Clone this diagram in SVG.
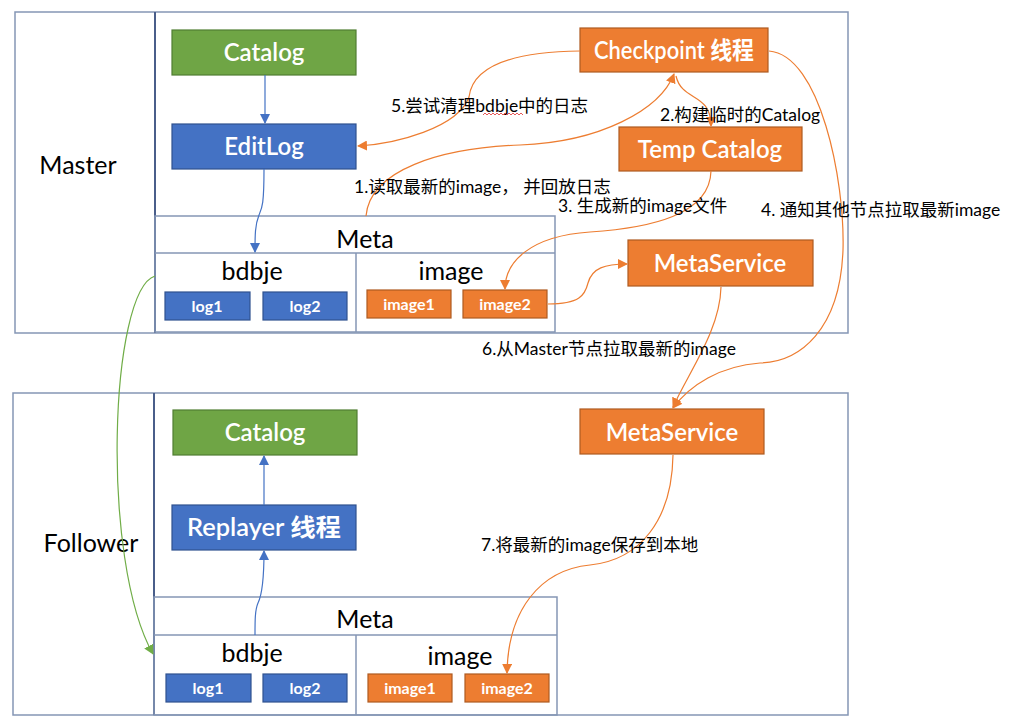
<svg xmlns="http://www.w3.org/2000/svg" width="1014" height="727" viewBox="0 0 1014 727">
<defs>
<style>
.frame{fill:#fff;stroke:#8596B5;stroke-width:1.5}
.div{stroke:#4A5E8A;stroke-width:2}
.sep{stroke:#8596B5;stroke-width:1.5;fill:none}
.blue{fill:#4472C4;stroke:#2F528F;stroke-width:1.2}
.green{fill:#6FA545;stroke:#507E32;stroke-width:1.2}
.orange{fill:#ED7D31;stroke:#AE5A21;stroke-width:1.2}
.nt{font-family:Lato,"Noto Sans","Noto Sans CJK SC",sans-serif;fill:#fff;text-anchor:middle;font-size:24px;font-weight:600}
.st{font-family:Lato,"Noto Sans","Noto Sans CJK SC",sans-serif;fill:#fff;text-anchor:middle;font-size:16px;font-weight:bold}
.bt{font-family:Lato,"Noto Sans","Noto Sans CJK SC",sans-serif;fill:#000;text-anchor:middle;font-size:25px}
.lb{font-family:Lato,"Noto Sans","Noto Sans CJK SC",sans-serif;fill:#000;font-size:17.5px}
.cb{fill:none;stroke:#4472C4;stroke-width:1.2}
.co{fill:none;stroke:#ED7D31;stroke-width:1.2}
.cg{fill:none;stroke:#70AD47;stroke-width:1.2}
</style>
<marker id="ab" viewBox="0 0 10 10" refX="9" refY="5" markerWidth="10" markerHeight="10" markerUnits="userSpaceOnUse" orient="auto"><path d="M0,0 L10,5 L0,10 z" fill="#4472C4"/></marker>
<marker id="ao" viewBox="0 0 10 10" refX="9" refY="5" markerWidth="10" markerHeight="10" markerUnits="userSpaceOnUse" orient="auto"><path d="M0,0 L10,5 L0,10 z" fill="#ED7D31"/></marker>
<marker id="ag" viewBox="0 0 10 10" refX="9" refY="5" markerWidth="10" markerHeight="10" markerUnits="userSpaceOnUse" orient="auto"><path d="M0,0 L10,5 L0,10 z" fill="#70AD47"/></marker>
</defs>
<rect width="1014" height="727" fill="#fff"/>

<g id="master-frame">
<rect class="frame" x="15" y="12" width="833" height="321"/>
<line class="div" x1="155" y1="12" x2="155" y2="333"/>
<text class="bt" x="78" y="174">Master</text>
</g>
<g id="follower-frame">
<rect class="frame" x="13" y="393" width="835" height="322"/>
<line class="div" x1="154" y1="393" x2="154" y2="715"/>
<text class="bt" x="91" y="552">Follower</text>
</g>

<g id="master-meta">
<rect class="sep" x="155" y="216" width="400" height="116"/>
<line class="sep" x1="155" y1="253" x2="555" y2="253"/>
<line class="sep" x1="356" y1="253" x2="356" y2="332"/>
<text class="bt" x="365" y="248">Meta</text>
<text class="bt" x="252" y="280">bdbje</text>
<text class="bt" x="451" y="280">image</text>
</g>
<g id="m-log1"><rect class="blue" x="165" y="292" width="85" height="28"/><text class="st" x="207" y="312">log1</text></g>
<g id="m-log2"><rect class="blue" x="263" y="292" width="84" height="28"/><text class="st" x="305" y="312">log2</text></g>
<g id="m-image1"><rect class="orange" x="367" y="290" width="84" height="28"/><text class="st" x="409" y="310">image1</text></g>
<g id="m-image2"><rect class="orange" x="463" y="290" width="84" height="28"/><text class="st" x="505" y="310">image2</text></g>

<g id="m-catalog"><rect class="green" x="172" y="30" width="184" height="45"/><text class="nt" x="264" y="61">Catalog</text></g>
<g id="m-editlog"><rect class="blue" x="172" y="124" width="184" height="45"/><text class="nt" x="264" y="155">EditLog</text></g>
<g id="checkpoint"><rect class="orange" x="580" y="28" width="188" height="44"/><text class="nt" x="674" y="59" textLength="160" lengthAdjust="spacingAndGlyphs">Checkpoint 线程</text></g>
<g id="temp-catalog"><rect class="orange" x="619" y="127" width="183" height="44"/><text class="nt" x="710" y="158">Temp Catalog</text></g>
<g id="m-metaservice"><rect class="orange" x="628" y="240" width="185" height="46"/><text class="nt" x="720" y="272">MetaService</text></g>

<g id="follower-meta">
<rect class="sep" x="154" y="597" width="403" height="118"/>
<line class="sep" x1="154" y1="635" x2="557" y2="635"/>
<line class="sep" x1="356" y1="635" x2="356" y2="715"/>
<text class="bt" x="365" y="628">Meta</text>
<text class="bt" x="252" y="662">bdbje</text>
<text class="bt" x="460" y="665">image</text>
</g>
<g id="f-log1"><rect class="blue" x="166" y="674" width="85" height="28"/><text class="st" x="208" y="694">log1</text></g>
<g id="f-log2"><rect class="blue" x="263" y="674" width="84" height="28"/><text class="st" x="305" y="694">log2</text></g>
<g id="f-image1"><rect class="orange" x="368" y="674" width="84" height="28"/><text class="st" x="410" y="694">image1</text></g>
<g id="f-image2"><rect class="orange" x="465" y="674" width="84" height="28"/><text class="st" x="507" y="694">image2</text></g>

<g id="f-catalog"><rect class="green" x="173" y="410" width="184" height="45"/><text class="nt" x="265" y="441">Catalog</text></g>
<g id="f-replayer"><rect class="blue" x="172" y="505" width="184" height="45"/><text class="nt" x="264" y="536" textLength="154" lengthAdjust="spacingAndGlyphs">Replayer 线程</text></g>
<g id="f-metaservice"><rect class="orange" x="580" y="409" width="184" height="45"/><text class="nt" x="672" y="441">MetaService</text></g>

<g id="connectors">
<path class="cb" d="M265,75 L265,123" marker-end="url(#ab)"/>
<path class="cb" d="M264,169 C264,205 262,208 259,215 C255,225 255,235 255,252" marker-end="url(#ab)"/>
<path class="cb" d="M255,635 C255,620 255,610 258,603 C262,595 264,580 264,551" marker-end="url(#ab)"/>
<path class="cb" d="M264,505 L264,456" marker-end="url(#ab)"/>
<path class="cg" d="M155,276 C110,290 100,560 153,654" marker-end="url(#ag)"/>
<path class="co" d="M580,51 C500,52 472,72 469,97 C458,128 395,144 358,146" marker-end="url(#ao)"/>
<path class="co" d="M366,216 C370,170 440,148 520,145 C600,142 660,110 674,74" marker-end="url(#ao)"/>
<path class="co" d="M676,76 C682,102 711,92 711,126" marker-end="url(#ao)"/>
<path class="co" d="M711,171 C710,215 650,228 590,232 C530,236 505,262 505,289" marker-end="url(#ao)"/>
<path class="co" d="M548,304 C580,304 585,295 588,283 C592,268 605,264 627,264" marker-end="url(#ao)"/>
<path class="co" d="M769,51 C820,55 845,180 843,250 C840,330 800,362 760,363 C720,366 690,385 673,408" marker-end="url(#ao)"/>
<path class="co" d="M721,287 C720,330 690,370 673,407" marker-end="url(#ao)"/>
<path class="co" d="M673,455 C672,520 640,560 590,565 C540,570 508,610 507,673" marker-end="url(#ao)"/>
</g>

<g id="labels">
<text class="lb" x="391" y="112">5.尝试清理bdbje中的日志</text>
<path d="M483,115 l2,-2 l2,2 l2,-2 l2,2 l2,-2 l2,2 l2,-2 l2,2 l2,-2 l2,2 l2,-2 l2,2 l2,-2 l2,2 l2,-2 l2,2 l2,-2 l2,2 l2,-2 l2,2" fill="none" stroke="#E03030" stroke-width="0.8"/>
<text class="lb" x="660" y="121">2.构建临时的Catalog</text>
<text class="lb" x="354" y="193">1.读取最新的image， 并回放日志</text>
<text class="lb" x="558" y="212">3. 生成新的image文件</text>
<text class="lb" x="761" y="216">4. 通知其他节点拉取最新image</text>
<text class="lb" x="482" y="355">6.从Master节点拉取最新的image</text>
<text class="lb" x="481" y="551">7.将最新的image保存到本地</text>
</g>
</svg>
